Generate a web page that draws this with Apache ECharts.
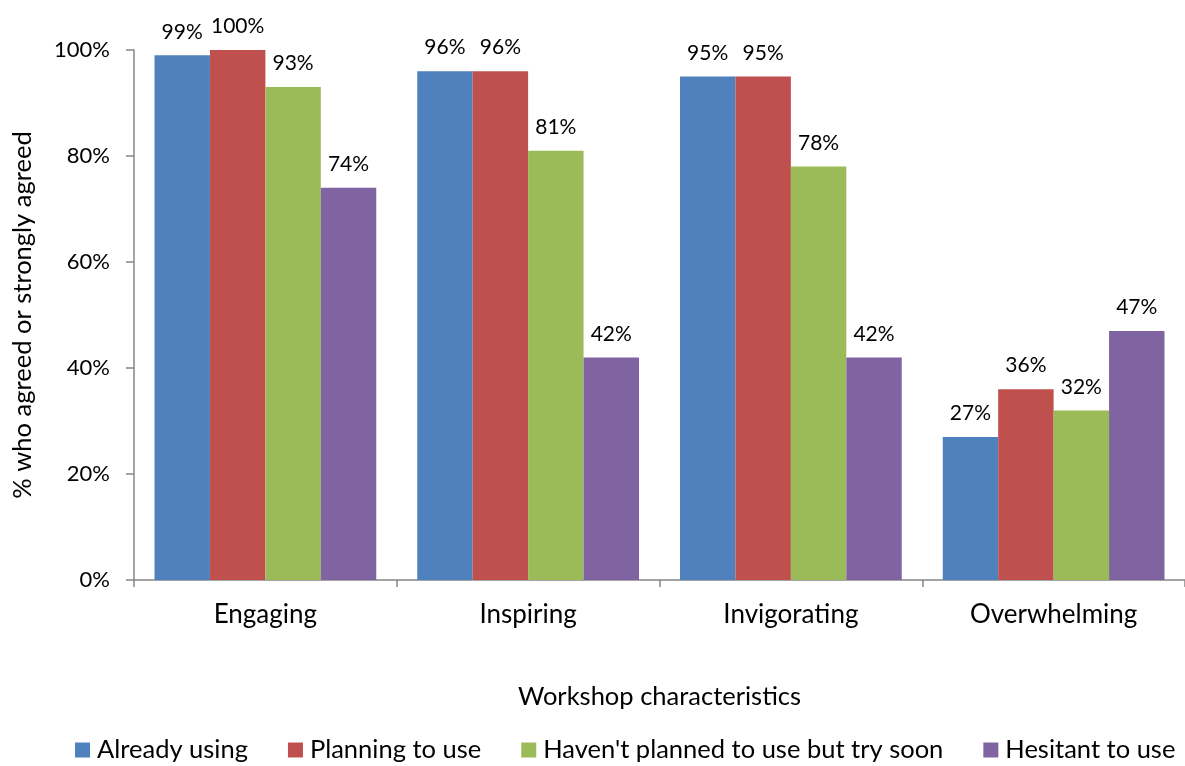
<!DOCTYPE html>
<html>
<head>
<meta charset="utf-8">
<script src="https://cdn.jsdelivr.net/npm/echarts@6/dist/echarts.min.js"></script>
<style>
  html, body { margin: 0; padding: 0; background: #fff; }
  #chart { width: 1185px; height: 766px; }
</style>
</head>
<body>
<div id="chart"></div>
<script>
// Workshop characteristics by adoption group (% who agreed or strongly agreed)
const categories = ['Engaging', 'Inspiring', 'Invigorating', 'Overwhelming'];
const seriesNames = ['Already using', 'Planning to use', "Haven't planned to use but try soon", 'Hesitant to use'];
const alreadyUsing = [99, 96, 95, 27];
const planningToUse = [100, 96, 95, 36];
const tryingSoon = [93, 81, 78, 32];
const hesitant = [74, 42, 42, 47];
const yTicks = [0, 20, 40, 60, 80, 100];

const palette = ['#4F81BD', '#C0504D', '#9BBB59', '#8064A2'];
const values = [alreadyUsing, planningToUse, tryingSoon, hesitant];
const FONT = 'Lato';

const chart = echarts.init(document.getElementById('chart'));
chart.setOption({
  animation: false,
  color: palette,
  textStyle: { fontFamily: FONT, color: '#000' },
  grid: { left: 134, top: 50, width: 1053, height: 530 },
  legend: {
    top: 737,
    left: 75,
    padding: 0,
    itemWidth: 15,
    itemHeight: 15,
    itemGap: 40,
    icon: 'rect',
    textStyle: { fontFamily: FONT, fontSize: 25.5, color: '#000', padding: [0, 0, 0, 2] },
    data: seriesNames
  },
  xAxis: {
    type: 'category',
    data: categories,
    name: 'Workshop characteristics',
    nameLocation: 'middle',
    nameGap: 104,
    nameTextStyle: { fontFamily: FONT, fontSize: 25.5, color: '#000' },
    axisLine: { lineStyle: { color: '#868686', width: 1.5 } },
    axisTick: { show: true, length: 7, lineStyle: { color: '#868686', width: 1.5 } },
    axisLabel: { fontFamily: FONT, fontSize: 26, color: '#000', margin: 22 }
  },
  yAxis: {
    type: 'value',
    min: 0,
    max: 100,
    interval: 20,
    name: '% who agreed or strongly agreed',
    nameLocation: 'middle',
    nameGap: 98,
    nameTextStyle: { fontFamily: FONT, fontSize: 25.5, color: '#000' },
    axisLine: { show: true, lineStyle: { color: '#868686', width: 1.5 } },
    axisTick: { show: true, length: 8, lineStyle: { color: '#868686', width: 1.5 } },
    splitLine: { show: false },
    axisLabel: {
      fontFamily: FONT, fontSize: 22, color: '#000', margin: 24,
      formatter: v => (yTicks.includes(v) ? v + '%' : '')
    }
  },
  series: seriesNames.map((name, i) => ({
    name,
    type: 'bar',
    data: values[i],
    barGap: '0%',
    barCategoryGap: '15.6%',
    itemStyle: { color: palette[i] },
    label: {
      show: true,
      position: 'top',
      distance: 13,
      fontFamily: FONT,
      fontSize: 21,
      color: '#000',
      formatter: p => p.value + '%'
    }
  }))
});
</script>
</body>
</html>
